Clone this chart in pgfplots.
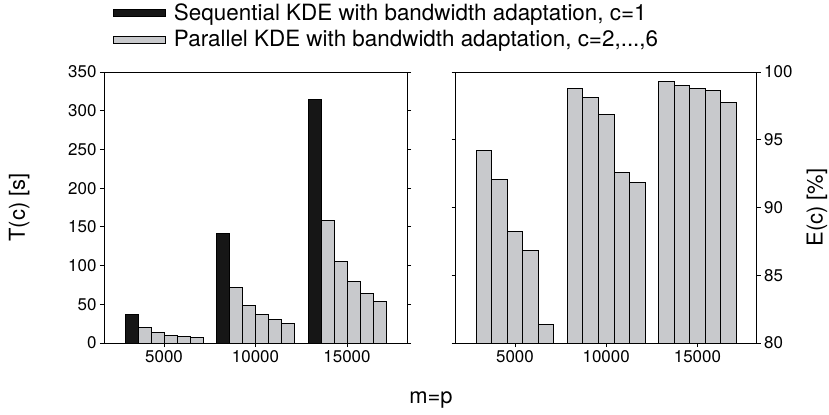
\documentclass[border=0pt]{standalone}
\usepackage{fontspec}
\setmainfont{TeX Gyre Heros}
\usepackage{pgfplots}
\pgfplotsset{compat=1.18}
\definecolor{barblack}{RGB}{22,22,22}
\definecolor{bargray}{RGB}{200,201,204}

\pgfplotsset{
  panel/.style={
    scale only axis,
    width=303bp, height=271bp,
    ybar=0pt,
    xmin=0.344, xmax=3.656,
    xtick={1,2,3},
    xticklabels={5000,10000,15000},
    xtick pos=left,
    tick align=outside,
    major tick length=4bp,
    axis line style={line width=0.8bp},
    tick style={line width=0.8bp, black},
    tick label style={font=\fontsize{17}{20}\selectfont},
    label style={font=\fontsize{22}{26}\selectfont},
    /pgf/number format/assume math mode=true,
    every axis plot/.append style={draw=black, line width=0.9bp},
  },
  seq/.style={fill=barblack},
  par/.style={fill=bargray},
}

\begin{document}
\begin{tikzpicture}
\useasboundingbox (-104bp,-72bp) rectangle (725bp,343bp);

% left panel: run time
\begin{axis}[
  panel,
  at={(0bp,0bp)}, anchor=south west,
  bar width=0.142,
  ymin=0, ymax=350,
  ytick={0,50,...,350},
  ylabel={T(c) [s]},
  ylabel style={at={(axis description cs:-0.28,0.5)}, anchor=center},
  legend cell align=left,
  legend style={
    at={(axis description cs:0.0297,1.17)}, anchor=west,
    draw=none, fill=none, inner sep=0pt,
    font=\fontsize{22.5}{27}\selectfont,
    row sep=5bp,
    column sep=6bp,
  },
  legend image code/.code={\draw[#1, line width=0.8bp] (0bp,-3.5bp) rectangle (52bp,3.5bp);},
]
\addplot[seq] coordinates {(1,37) (2,141.6) (3,314.7)};
\addlegendentry{Sequential KDE with bandwidth adaptation, c=1}
\addplot[par] coordinates {(1,19.8) (2,71.5) (3,158)};
\addlegendentry{Parallel KDE with bandwidth adaptation, c=2,...,6}
\addplot[par] coordinates {(1,13.3) (2,48.2) (3,105.9)};
\addplot[par] coordinates {(1,10.3) (2,36.6) (3,79.6)};
\addplot[par] coordinates {(1,8.2) (2,30.1) (3,63.7)};
\addplot[par] coordinates {(1,7.7) (2,25.4) (3,53.8)};
\end{axis}

% right panel: efficiency
\begin{axis}[
  panel,
  at={(351.7bp,0bp)}, anchor=south west,
  width=301bp,
  xmin=0.35, xmax=3.65,
  bar width=0.17,
  ymin=80, ymax=100,
  ytick={80,85,...,100},
  yticklabel pos=right,
  ylabel={E(c) [\%]},
  ylabel style={at={(axis description cs:1.2,0.5)}, anchor=center},
]
\addplot[par] coordinates {(1,94.24) (2,98.77) (3,99.29)};
\addplot[par] coordinates {(1,92.1) (2,98.15) (3,99.04)};
\addplot[par] coordinates {(1,88.2) (2,96.9) (3,98.75)};
\addplot[par] coordinates {(1,86.8) (2,92.55) (3,98.65)};
\addplot[par] coordinates {(1,81.35) (2,91.83) (3,97.74)};
\end{axis}

\node[font=\fontsize{22}{26}\selectfont] at (327bp,-57bp) {m=p};
\end{tikzpicture}
\end{document}
